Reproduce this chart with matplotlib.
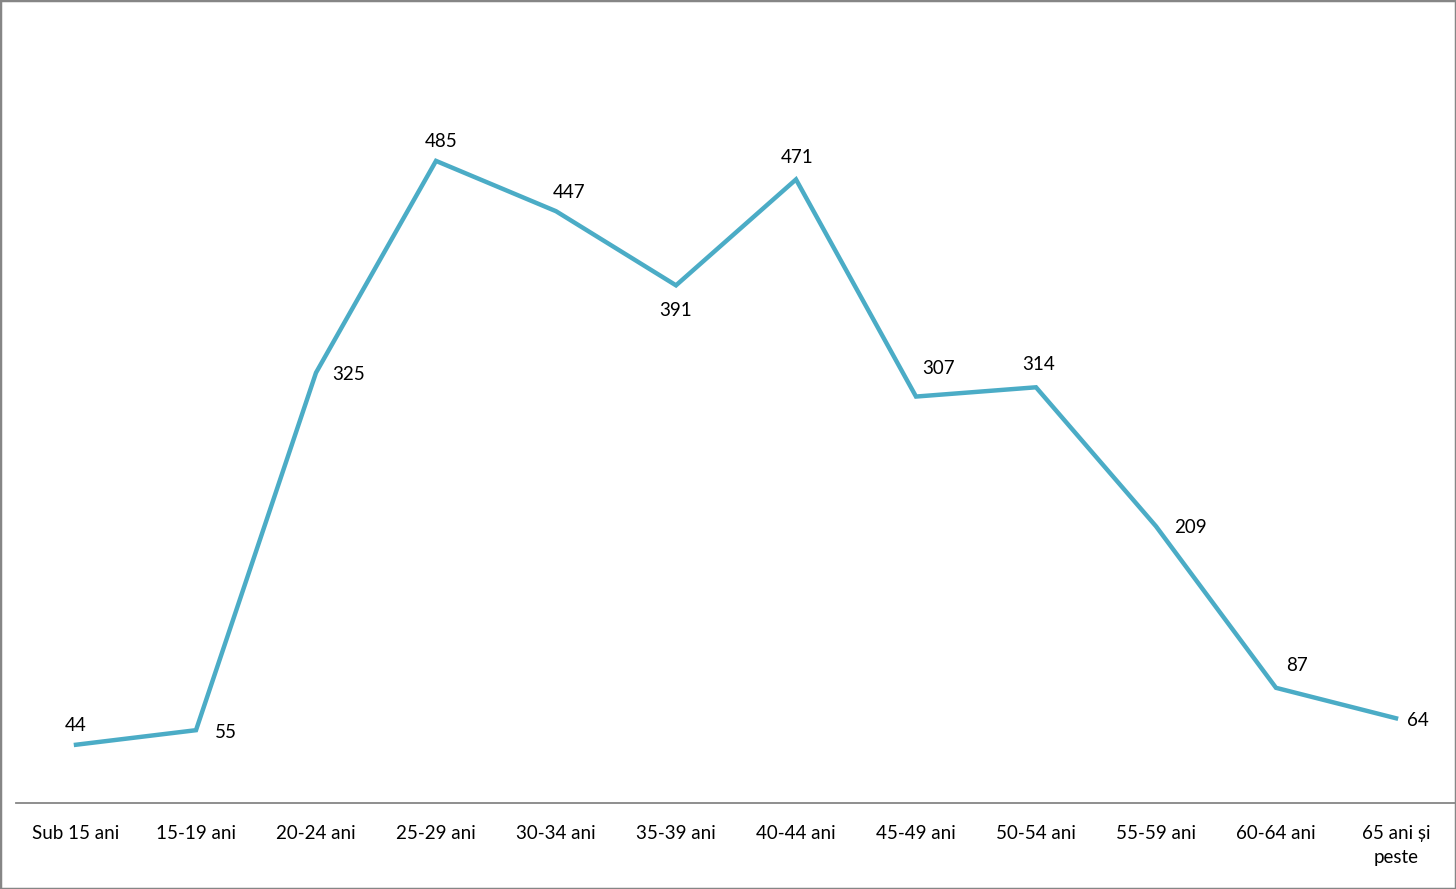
import matplotlib
matplotlib.use("Agg")
from matplotlib import pyplot as plt
from matplotlib.patches import Rectangle

categories = ["Sub 15 ani", "15-19 ani", "20-24 ani", "25-29 ani", "30-34 ani",
              "35-39 ani", "40-44 ani", "45-49 ani", "50-54 ani", "55-59 ani",
              "60-64 ani", "65 ani și\npeste"]
values = [44, 55, 325, 485, 447, 391, 471, 307, 314, 209, 87, 64]
# label offsets in pixels (dx, dy) relative to each point
label_offsets = [(0, 19), (30, -2), (33, -2), (5, 19), (13, 19), (0, -25),
                 (1, 22), (23, 28), (3, 23), (34, -1), (21, 22), (22, -2)]

plt.rcParams['font.family'] = ['Lato', 'DejaVu Sans']

fig = plt.figure(figsize=(14.56, 8.89), dpi=100)
ax = fig.add_axes([16 / 1456, 1 - 803 / 889, 1 - 16 / 1456, 797 / 889])

x = list(range(len(categories)))
ax.plot(x, values, color="#4BACC6", linewidth=3.2, solid_joinstyle="miter")

for xi, v, (dx, dy) in zip(x, values, label_offsets):
    ax.annotate(str(v), (xi, v), xytext=(dx, dy), textcoords="offset pixels",
                ha="center", va="center", fontsize=13.5, color="black")

ax.set_xlim(-0.5, len(categories) - 0.5)
ax.set_ylim(0, 602)
ax.set_xticks(x)
ax.set_xticklabels(categories, fontsize=13.5, linespacing=1.5)
ax.tick_params(axis="x", length=0, pad=16)
ax.set_yticks([])
for side in ["top", "right", "left"]:
    ax.spines[side].set_visible(False)
ax.spines["bottom"].set_color("#868686")
ax.spines["bottom"].set_linewidth(1.3)

fig.patches.append(Rectangle((0, 0), 1, 1, transform=fig.transFigure,
                             fill=False, edgecolor="#868686", linewidth=2.5))

fig.savefig("out.png", dpi=100)
